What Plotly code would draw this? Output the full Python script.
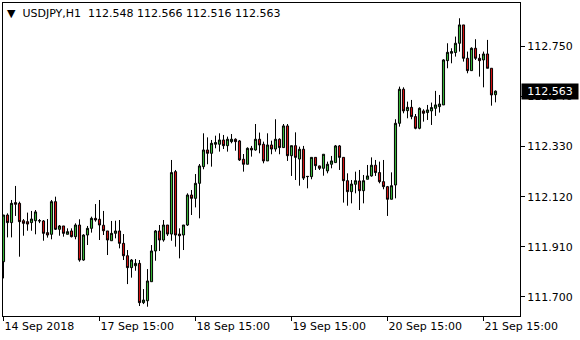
import plotly.graph_objects as go

open_ = [111.847,112.043,112.011,112.095,112.092,112.019,112.015,112.011,112.019,112.018,
         112.018,111.969,111.962,112.099,111.983,111.997,111.962,111.976,111.952,112.001,
         111.854,111.959,111.987,112.029,112.025,112.000,111.976,111.935,111.966,111.976,
         111.924,111.872,111.822,111.830,111.840,111.675,111.683,111.763,111.892,111.976,
         111.938,112.001,111.963,112.225,111.963,111.959,112.001,112.127,112.113,112.176,
         112.246,112.316,112.302,112.340,112.340,112.358,112.334,112.351,112.361,112.354,
         112.277,112.256,112.323,112.316,112.361,112.340,112.270,112.337,112.320,112.361,
         112.326,112.417,112.292,112.334,112.278,112.319,112.204,112.204,112.285,112.249,
         112.239,112.228,112.256,112.263,112.333,112.285,112.187,112.141,112.172,112.186,
         112.145,112.193,112.207,112.252,112.221,112.183,112.162,112.109,112.169,112.428,
         112.571,112.481,112.495,112.456,112.407,112.480,112.473,112.480,112.491,112.498,
         112.505,112.691,112.722,112.725,112.764,112.841,112.701,112.649,112.743,112.701,
         112.694,112.719,112.659,112.548]
high = [112.043,112.050,112.106,112.165,112.099,112.026,112.053,112.060,112.064,112.026,
        112.022,112.026,112.106,112.120,112.001,111.997,111.987,111.987,112.008,112.025,
        111.962,111.997,112.036,112.089,112.106,112.060,111.976,112.018,112.019,112.022,
        111.963,111.896,111.858,111.858,111.854,111.732,111.816,111.917,111.980,112.001,
        112.022,112.001,112.274,112.232,111.987,112.001,112.134,112.148,112.215,112.257,
        112.386,112.369,112.358,112.376,112.386,112.379,112.372,112.383,112.365,112.358,
        112.299,112.327,112.333,112.425,112.389,112.351,112.386,112.355,112.445,112.365,
        112.425,112.425,112.334,112.390,112.330,112.333,112.206,112.285,112.285,112.250,
        112.298,112.267,112.291,112.337,112.337,112.285,112.218,112.190,112.225,112.232,
        112.211,112.253,112.285,112.274,112.267,112.274,112.165,112.222,112.445,112.582,
        112.579,112.519,112.526,112.467,112.495,112.487,112.505,112.515,112.564,112.547,
        112.697,112.764,112.743,112.792,112.869,112.841,112.729,112.747,112.781,112.719,
        112.729,112.778,112.659,112.566]
low = [111.777,111.949,111.949,112.039,111.868,111.956,111.977,111.977,111.962,112.009,
       111.935,111.948,111.941,111.980,111.956,111.952,111.962,111.949,111.941,111.847,
       111.851,111.917,111.969,112.015,111.938,111.959,111.875,111.935,111.945,111.903,
       111.854,111.753,111.780,111.809,111.661,111.669,111.658,111.763,111.851,111.892,
       111.931,111.955,111.935,111.910,111.861,111.896,111.997,112.043,112.075,112.029,
       112.235,112.256,112.246,112.323,112.309,112.320,112.309,112.344,112.313,112.270,
       112.225,112.256,112.288,112.313,112.302,112.260,112.270,112.298,112.309,112.298,
       112.326,112.270,112.207,112.190,112.166,112.190,112.155,112.193,112.232,112.232,
       112.208,112.218,112.239,112.263,112.232,112.095,112.082,112.092,112.134,112.064,
       112.092,112.193,112.204,112.207,112.176,112.151,112.039,112.109,112.113,112.414,
       112.470,112.449,112.445,112.403,112.403,112.435,112.442,112.421,112.459,112.473,
       112.505,112.659,112.680,112.708,112.729,112.687,112.638,112.649,112.694,112.624,
       112.579,112.659,112.502,112.516]
close = [112.043,112.011,112.092,112.088,112.015,112.008,112.005,112.026,112.056,112.019,
         111.966,111.959,112.099,111.983,111.997,111.966,111.973,111.952,112.001,111.854,
         111.959,111.987,112.029,112.022,112.001,111.977,111.938,111.966,111.976,111.924,
         111.872,111.822,111.854,111.840,111.675,111.686,111.766,111.892,111.976,111.938,
         112.001,111.963,112.221,111.959,111.956,112.001,112.127,112.113,112.176,112.249,
         112.316,112.302,112.344,112.347,112.358,112.334,112.361,112.361,112.351,112.274,
         112.256,112.323,112.316,112.361,112.337,112.270,112.337,112.320,112.361,112.326,
         112.417,112.292,112.334,112.285,112.319,112.198,112.205,112.285,112.250,112.239,
         112.298,112.256,112.270,112.333,112.285,112.187,112.141,112.173,112.187,112.145,
         112.187,112.207,112.252,112.221,112.183,112.162,112.109,112.166,112.428,112.571,
         112.480,112.495,112.456,112.407,112.491,112.470,112.484,112.494,112.505,112.509,
         112.694,112.726,112.729,112.764,112.841,112.701,112.649,112.743,112.701,112.691,
         112.719,112.659,112.547,112.563]
bars = list(range(len(close)))

tick_bars = [0, 24, 48, 72, 96, 120]
tick_text = ["14 Sep 2018", "17 Sep 15:00", "18 Sep 15:00", "19 Sep 15:00",
             "20 Sep 15:00", "21 Sep 15:00"]
price_ticks = [111.700, 111.910, 112.120, 112.330, 112.540, 112.750]
header = "USDJPY,H1  112.548 112.566 112.516 112.563"
last_price = 112.563

FONT = "DejaVu Sans"

fig = go.Figure(go.Candlestick(
    x=bars, open=open_, high=high, low=low, close=close,
    increasing=dict(line=dict(color="black", width=1), fillcolor="#36b236"),
    decreasing=dict(line=dict(color="black", width=1), fillcolor="#d01010"),
    whiskerwidth=0, hoverinfo="skip",
))

fig.update_layout(
    width=580, height=340,
    margin=dict(l=3, r=60, t=3, b=24),
    paper_bgcolor="white", plot_bgcolor="white",
    showlegend=False, boxgap=0.25,
    font=dict(family=FONT, size=11, color="black"),
    xaxis=dict(
        range=[-0.125, 129.125], rangeslider=dict(visible=False),
        tickvals=tick_bars, ticktext=tick_text,
        ticks="outside", ticklen=4, tickcolor="black",
        ticklabelposition="outside right",
        showgrid=False, zeroline=False,
        showline=True, mirror=True, linecolor="black", linewidth=1,
        tickfont=dict(family=FONT, size=11, color="black"),
    ),
    yaxis=dict(
        range=[111.619, 112.933], side="right",
        tickvals=price_ticks, ticktext=[f"{v:.3f}" for v in price_ticks],
        ticks="outside", ticklen=4, tickcolor="black",
        showgrid=False, zeroline=False,
        showline=True, mirror=True, linecolor="black", linewidth=1,
        tickfont=dict(family=FONT, size=11, color="black"),
    ),
)

fig.add_annotation(
    xref="paper", yref="paper", x=0, y=1, xanchor="left", yanchor="top",
    xshift=2, yshift=-2, showarrow=False,
    text="▼  " + header, font=dict(family=FONT, size=11, color="black"),
)
fig.add_annotation(
    xref="paper", yref="y", x=1, y=last_price, xanchor="left", yanchor="middle",
    xshift=1, showarrow=False, bgcolor="black", borderpad=1,
    text=f"{last_price:.3f}", font=dict(family=FONT, size=11, color="white"),
    width=54, align="center",
)

fig.write_html("out.html")
